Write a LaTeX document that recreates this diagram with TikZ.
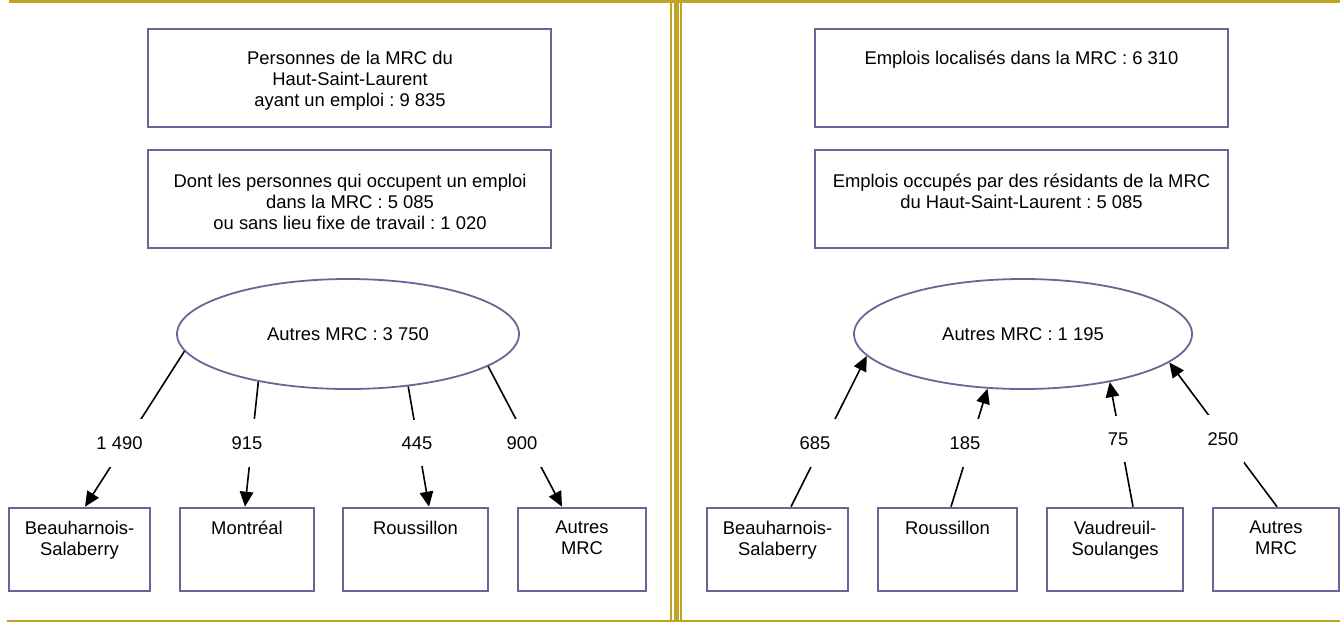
\documentclass[tikz,border=0pt]{standalone}
\usepackage{fontspec}
\setmainfont{Liberation Sans}
\frenchspacing
\usetikzlibrary{shapes.geometric,arrows.meta}
\definecolor{gold}{RGB}{195,163,35}
\definecolor{slate}{RGB}{102,102,153}
\tikzset{
  box/.style={draw=slate, line width=2.6pt, rectangle, inner sep=0pt},
  ell/.style={draw=slate, line width=1.8pt, ellipse, inner sep=0pt, font=\fontsize{18.4}{21}\selectfont},
  txt/.style={font=\fontsize{18.4}{21}\selectfont, align=center, inner sep=0pt, anchor=north},
  num/.style={font=\fontsize{18.4}{21}\selectfont, fill=white, inner xsep=6pt, inner ysep=17pt},
  conn/.style={line width=1.6pt, draw=black},
  arr/.style={conn, -{Triangle[length=15pt,width=13.5pt]}},
}
\begin{document}
\begin{tikzpicture}[x=1pt,y=1pt]
\useasboundingbox (0,0) rectangle (1340,-622);
% frame
\fill[gold] (9,0) rectangle (1340,-3);
\fill[gold] (670,0) rectangle (672.3,-622);
\fill[gold] (674,0) rectangle (678.6,-622);
\fill[gold] (680,0) rectangle (682.2,-622);
\draw[gold, line width=1.2pt] (7,-621) -- (1340,-621);

% ---------- left panel ----------
\node[box, minimum width=403, minimum height=98] (A) at (349.5,-78) {};
\node[txt] (At) at (350,-51) {Personnes de la MRC du\\Haut-Saint-Laurent\\ayant un emploi : 9 835};
\node[box, minimum width=403, minimum height=98] (B) at (349.5,-199) {};
\node[txt] (Bt) at (350,-174) {Dont les personnes qui occupent un emploi\\dans la MRC : 5 085\\ou sans lieu fixe de travail : 1 020};
\node[ell, minimum width=342, minimum height=110] (L) at (348,-334) {Autres MRC : 3 750};

\node[box, minimum width=141, minimum height=83] (b1) at (79.5,-549.5) {};
\node[box, minimum width=134, minimum height=83] (b2) at (247,-549.5) {};
\node[box, minimum width=145, minimum height=83] (b3) at (415.5,-549.5) {};
\node[box, minimum width=128, minimum height=83] (b4) at (582,-549.5) {};
\node[txt] (b1t) at (79.5,-521) {Beauharnois-\\Salaberry};
\node[txt] (b2t) at (247,-521) {Montréal};
\node[txt] (b3t) at (415.5,-521) {Roussillon};
\node[txt] (b4t) at (582,-521) {Autres\\MRC};

\draw[arr] (L.186) -- ([xshift=5.5pt]b1.north);
\draw[arr] (L.208) -- ([xshift=-2pt]b2.north);
\draw[arr] (L.319) -- ([xshift=13.5pt]b3.north);
\draw[arr] (L.347) -- ([xshift=-20pt]b4.north);
\node[num] (l1) at (119.5,-443) {1 490};
\node[num] (l2) at (247,-443) {915};
\node[num] (l3) at (417,-443) {445};
\node[num] (l4) at (522,-443) {900};

% ---------- right panel ----------
\node[box, minimum width=413, minimum height=98] (C) at (1021.5,-78) {};
\node[txt] (Ct) at (1021.5,-51) {Emplois localisés dans la MRC : 6 310};
\node[box, minimum width=413, minimum height=98] (D) at (1021.5,-199) {};
\node[txt] (Dt) at (1021.5,-174) {Emplois occupés par des résidants de la MRC\\du Haut-Saint-Laurent : 5 085};
\node[ell, minimum width=338, minimum height=110] (R) at (1023,-334) {Autres MRC : 1 195};

\node[box, minimum width=141, minimum height=83] (r1) at (777.5,-549.5) {};
\node[box, minimum width=139, minimum height=83] (r2) at (947.5,-549.5) {};
\node[box, minimum width=136, minimum height=83] (r3) at (1115,-549.5) {};
\node[box, minimum width=126, minimum height=83] (r4) at (1276,-549.5) {};
\node[txt] (r1t) at (777.5,-521) {Beauharnois-\\Salaberry};
\node[txt] (r2t) at (947.5,-521) {Roussillon};
\node[txt] (r3t) at (1115,-521) {Vaudreuil-\\Soulanges};
\node[txt] (r4t) at (1276,-521) {Autres\\MRC};

\draw[arr] ([xshift=13.5pt]r1.north) -- (R.188);
\draw[arr] ([xshift=3.5pt]r2.north) -- (R.237);
\draw[arr] ([xshift=18pt]r3.north) -- (R.331);
\draw[arr] ([xshift=1pt]r4.north) -- (R.349);
\node[num] (m1) at (815,-443) {685};
\node[num] (m2) at (965,-443) {185};
\node[num] (m3) at (1118,-439) {75};
\node[num] (m4) at (1223,-439) {250};
\end{tikzpicture}
\end{document}
